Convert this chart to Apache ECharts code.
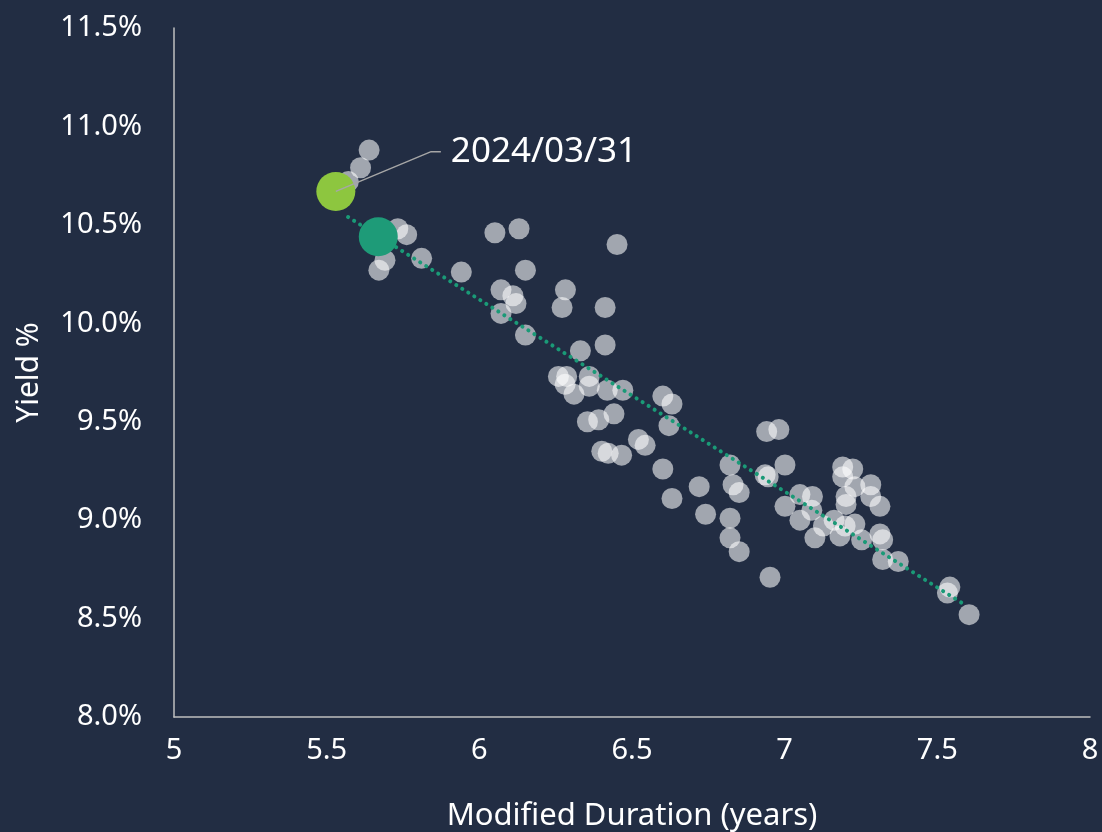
<!DOCTYPE html>
<html>
<head>
<meta charset="utf-8">
<style>
    html, body { margin: 0; padding: 0; background: #222d43; }
    /* chart size */
    #chart { width: 1102px; height: 832px; }
</style>
<script src="https://cdn.jsdelivr.net/npm/echarts@6/dist/echarts.min.js"></script>
</head>
<body>
<div id="chart"></div>
<script>
    // modified duration (years) of each month-end observation
    var durations = [5.639, 5.611, 5.571, 5.733, 5.762, 5.691, 5.671, 5.811, 5.941, 6.051,
        6.130, 6.451, 6.151, 6.071, 6.110, 6.120, 6.282, 6.271, 6.412, 6.071,
        6.151, 6.331, 6.412, 6.259, 6.286, 6.281, 6.360, 6.310, 6.360, 6.419,
        6.470, 6.441, 6.391, 6.354, 6.601, 6.631, 6.621, 6.521, 6.543, 6.401,
        6.422, 6.466, 6.601, 6.631, 6.720, 6.741, 6.821, 6.831, 6.851, 6.821,
        6.821, 6.851, 6.952, 6.941, 6.981, 6.936, 7.001, 6.946, 7.001, 7.050,
        7.091, 7.050, 7.089, 7.099, 7.127, 7.162, 7.198, 7.230, 7.181, 7.252,
        7.190, 7.223, 7.190, 7.230, 7.282, 7.201, 7.201, 7.282, 7.312, 7.312,
        7.321, 7.321, 7.372, 7.541, 7.533, 7.604];
    // yield % of each observation
    var yields = [10.88, 10.79, 10.72, 10.48, 10.45, 10.32, 10.27, 10.33, 10.26, 10.46,
        10.48, 10.40, 10.27, 10.17, 10.14, 10.10, 10.17, 10.08, 10.08, 10.05,
        9.94, 9.86, 9.89, 9.73, 9.73, 9.69, 9.73, 9.64, 9.68, 9.66,
        9.66, 9.54, 9.51, 9.50, 9.63, 9.59, 9.48, 9.41, 9.38, 9.35,
        9.34, 9.33, 9.26, 9.11, 9.17, 9.03, 9.28, 9.18, 9.14, 9.01,
        8.91, 8.84, 8.71, 9.45, 9.46, 9.23, 9.28, 9.22, 9.07, 9.13,
        9.12, 9.00, 9.05, 8.91, 8.97, 9.00, 8.97, 8.98, 8.92, 8.90,
        9.27, 9.26, 9.22, 9.17, 9.18, 9.12, 9.08, 9.12, 9.07, 8.93,
        8.90, 8.80, 8.79, 8.66, 8.63, 8.52];

    var latestPoint = [5.530, 10.67];   // 2024/03/31
    var currentPoint = [5.669, 10.44];
    var trendStart = [5.57, 10.54];
    var trendEnd = [7.59, 8.57];
    var latestLabel = '2024/03/31';
    // leader line: from the point to the elbow, then a short flat run
    var leaderElbow = [5.842, 10.872];
    var leaderEnd = [5.874, 10.872];

    var xTicks = { min: 5, max: 8, step: 0.5 };
    var yTicks = { min: 8, max: 11.5, step: 0.5 };

    var pastPoints = durations.map(function (d, i) { return [d, yields[i]]; });

    var font = 'Noto Sans';
    var myChart = echarts.init(document.getElementById('chart'));
    var option = {
        backgroundColor: '#222d43',
        animation: false,
        textStyle: { fontFamily: font, color: '#ffffff' },
        grid: { left: 174, right: 12, top: 28, bottom: 115, containLabel: false, outerBoundsMode: 'none' },
        xAxis: {
            type: 'value',
            min: xTicks.min,
            max: xTicks.max,
            interval: xTicks.step,
            name: 'Modified Duration (years)',
            nameLocation: 'middle',
            nameGap: 84,
            nameTextStyle: { fontSize: 31, color: '#ffffff', fontFamily: font },
            axisLine: { lineStyle: { color: '#bfbfbf', width: 1.5 } },
            axisTick: { show: false },
            splitLine: { show: false },
            axisLabel: { fontSize: 29, color: '#ffffff', margin: 19, fontFamily: font }
        },
        yAxis: {
            type: 'value',
            min: yTicks.min,
            max: yTicks.max,
            interval: yTicks.step,
            name: 'Yield %',
            nameLocation: 'middle',
            nameGap: 130,
            nameTextStyle: { fontSize: 30, color: '#ffffff', fontFamily: font },
            axisLine: { show: true, lineStyle: { color: '#bfbfbf', width: 1.5 } },
            axisTick: { show: false },
            splitLine: { show: false },
            axisLabel: {
                fontSize: 29, color: '#ffffff', margin: 32, fontFamily: font,
                formatter: function (v) { return v.toFixed(1) + '%'; }
            }
        },
        series: [
            {
                type: 'scatter',
                data: pastPoints,
                symbolSize: 21,
                itemStyle: { color: 'rgba(255,255,255,0.72)' },
                z: 2
            },
            {
                // linear trend line
                type: 'line',
                data: [trendStart, trendEnd],
                symbol: 'none',
                lineStyle: { color: '#1a9a77', width: 4, type: [0.1, 7], cap: 'round' },
                z: 3
            },
            {
                type: 'scatter',
                data: [currentPoint],
                symbolSize: 39,
                itemStyle: { color: '#1e9b78', opacity: 1 },
                z: 4
            },
            {
                type: 'scatter',
                data: [latestPoint],
                symbolSize: 39,
                itemStyle: { color: '#8dc63f', opacity: 1 },
                z: 4
            },
            {
                // leader line to the date label
                type: 'line',
                data: [latestPoint, leaderElbow, leaderEnd],
                symbol: 'none',
                lineStyle: { color: '#a6a6a6', width: 1.5 },
                endLabel: {
                    show: true,
                    formatter: latestLabel,
                    fontSize: 35,
                    color: '#ffffff',
                    fontFamily: font,
                    distance: 10
                },
                z: 5
            }
        ]
    };
    myChart.setOption(option);
</script>
</body>
</html>
